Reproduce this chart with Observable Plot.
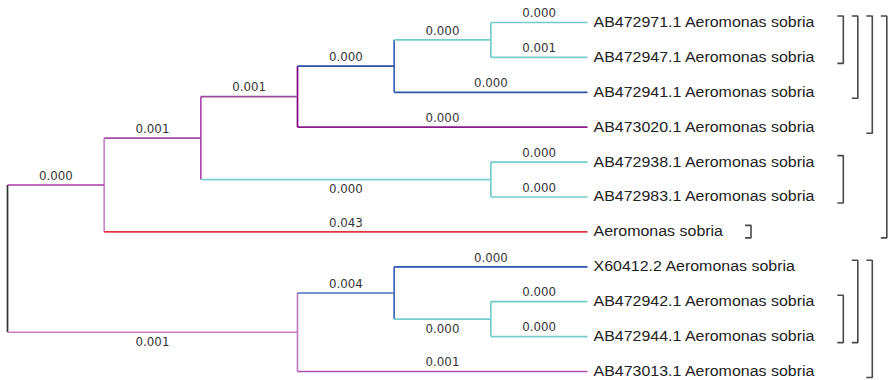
<!DOCTYPE html>
<html>
<head>
<meta charset="utf-8">
<script src="https://cdn.jsdelivr.net/npm/d3@7"></script>
<script src="https://cdn.jsdelivr.net/npm/@observablehq/plot@0.6"></script>
<style>
  html, body { margin: 0; padding: 0; background: #fff; }
  #chart svg { display: block; }
</style>
</head>
<body>
<div id="chart"></div>
<script>
// Tree nodes in pre-order; internal nodes are n0..n9, leaves carry the sequence names
const nodeIds = [
  "n0", "n1", "n2", "n3", "n4", "n5",
  "AB472971.1 Aeromonas sobria", "AB472947.1 Aeromonas sobria",
  "AB472941.1 Aeromonas sobria", "AB473020.1 Aeromonas sobria",
  "n6", "AB472938.1 Aeromonas sobria", "AB472983.1 Aeromonas sobria",
  "Aeromonas sobria",
  "n7", "n8", "X60412.2 Aeromonas sobria",
  "n9", "AB472942.1 Aeromonas sobria", "AB472944.1 Aeromonas sobria",
  "AB473013.1 Aeromonas sobria"
];
const parentIds = [
  null, "n0", "n1", "n2", "n3", "n4",
  "n5", "n5",
  "n4", "n3",
  "n2", "n6", "n6",
  "n1",
  "n0", "n7", "n8",
  "n8", "n9", "n9",
  "n7"
];
// Branch lengths written on each branch
const branchLengths = [
  null, 0.000, 0.001, 0.001, 0.000, 0.000,
  0.000, 0.001,
  0.000, 0.000,
  0.000, 0.000, 0.000,
  0.043,
  0.001, 0.004, 0.000,
  0.000, 0.000, 0.000,
  0.001
];
// Branch (horizontal) colours, by node
const branchColors = [
  null, "#a83ca8", "#a24ea2", "#9a4a9a", "#2a55a5", "#74cccc",
  "#74cccc", "#74cccc",
  "#2a55a5", "#8a1a8a",
  "#7ccfcf", "#74cccc", "#74cccc",
  "#e0373a",
  "#c47cc4", "#4a72c0", "#2a55b0",
  "#74cccc", "#74cccc", "#74cccc",
  "#b050b0"
];
// Connector (vertical) colours of internal nodes
const connectorColors = {
  n0: "#333333", n1: "#cc88cc", n2: "#b048b0", n3: "#800080", n4: "#3a66b8",
  n5: "#74cccc", n6: "#74cccc", n7: "#c47cc4", n8: "#3a66b8", n9: "#74cccc"
};
// Cluster brackets on the right: first leaf, last leaf, nesting level
const clusterFirst = [0, 0, 0, 0, 4, 6, 7, 8, 7];
const clusterLast  = [1, 2, 3, 6, 5, 6, 9, 9, 10];
const clusterLevel = [0, 1, 2, 3, 0, 0, 1, 0, 2];

// ---- layout -------------------------------------------------------------
const root = d3.stratify()
  .id((d, i) => nodeIds[i])
  .parentId((d, i) => parentIds[i])(nodeIds.map((id, i) => i));

const depthMax = root.height;
const leaves = root.leaves();
leaves.forEach((l, i) => { l.yy = i; });
root.eachAfter(n => {
  n.xx = depthMax - n.height; // cluster layout: leaves aligned on the right
  if (n.children) n.yy = (n.children[0].yy + n.children[n.children.length - 1].yy) / 2;
});

const nodes = root.descendants();
const branches = nodes.filter(n => n.parent).map(n => {
  const i = n.data;
  const isInternalLower = n.children && n.parent.children.indexOf(n) > 0;
  return {
    x1: n.parent.xx, x2: n.xx, y: n.yy,
    color: branchColors[i],
    label: d3.format(".3f")(branchLengths[i]),
    below: !!isInternalLower
  };
});
const connectors = nodes.filter(n => n.children).map(n => ({
  x: n.xx,
  y1: n.children[0].yy,
  y2: n.children[n.children.length - 1].yy,
  color: connectorColors[n.id]
}));
const leafLabels = leaves.map(l => ({ x: l.xx, y: l.yy, name: l.id }));
const leafNames = new Set(leaves.map(l => l.id));

// x and y scales
const xDomain = [0, depthMax], xRange = [7, 587];
const yDomain = [0, leaves.length - 1], yRange = [22, 371];
const xPx = d3.scaleLinear().domain(xDomain).range(xRange);
const yPx = d3.scaleLinear().domain(yDomain).range(yRange);

// label widths, for placing the brackets after the names
const leafFontFamily = "'Liberation Sans', Arial, sans-serif";
const leafFontSize = 14;
const stretch = 1.14;
const ctx = document.createElement("canvas").getContext("2d");
ctx.font = `${leafFontSize}px ${leafFontFamily}`;
const labelWidth = leaves.map(l => ctx.measureText(l.id).width * stretch);

const labelGap = 6, bracketGap = 28, bracketStep = 14.5, tickLen = 6;
const unitY = yPx.invert(yRange[0] + 1) - yDomain[0]; // one pixel in y units
const bracketRows = [];
clusterFirst.forEach((f, k) => {
  const last = clusterLast[k];
  const w = d3.max(d3.range(f, last + 1), r => labelWidth[r]);
  const px = xPx(depthMax) + labelGap + w + bracketGap + clusterLevel[k] * bracketStep;
  const xv = xPx.invert(px), xt = xPx.invert(px - tickLen);
  const yt = f - 6.5 * unitY;
  const yb = last + 6 * unitY;
  bracketRows.push(
    { k, x: xt, y: yt }, { k, x: xv, y: yt },
    { k, x: xv, y: yb }, { k, x: xt, y: yb }
  );
});

const branchFont = "'DejaVu Sans', Verdana, sans-serif";

const chart = Plot.plot({
  width: 889,
  height: 380,
  margin: 0,
  x: { domain: xDomain, range: xRange, axis: null },
  y: { domain: yDomain, range: yRange, axis: null },
  color: { type: "identity" },
  marks: [
    Plot.link(connectors, {
      x1: "x", x2: "x", y1: "y1", y2: "y2",
      stroke: "color", strokeWidth: 1.7
    }),
    Plot.link(branches, {
      x1: "x1", x2: "x2", y1: "y", y2: "y",
      stroke: "color", strokeWidth: 1.7
    }),
    Plot.text(branches.filter(d => !d.below), {
      x: d => (d.x1 + d.x2) / 2, y: "y", text: "label", dy: -9,
      fontFamily: branchFont, fontSize: 11.8, fill: "#333"
    }),
    Plot.text(branches.filter(d => d.below), {
      x: d => (d.x1 + d.x2) / 2, y: "y", text: "label", dy: 10,
      fontFamily: branchFont, fontSize: 11.8, fill: "#333"
    }),
    Plot.text(leafLabels, {
      x: "x", y: "y", text: "name", dx: labelGap, textAnchor: "start",
      fontFamily: leafFontFamily, fontSize: leafFontSize, fill: "#222"
    }),
    Plot.line(bracketRows, {
      x: "x", y: "y", z: "k", stroke: "#4a4a4a", strokeWidth: 1.6,
      strokeLinejoin: "miter", strokeLinecap: "butt"
    })
  ]
});

document.getElementById("chart").appendChild(chart);

// widen the leaf names slightly, as drawn by the tree viewer
chart.querySelectorAll("text").forEach(t => {
  if (!leafNames.has(t.textContent)) return;
  const len = t.getComputedTextLength();
  t.setAttribute("textLength", (len * stretch).toFixed(1));
  t.setAttribute("lengthAdjust", "spacingAndGlyphs");
});
</script>
</body>
</html>
